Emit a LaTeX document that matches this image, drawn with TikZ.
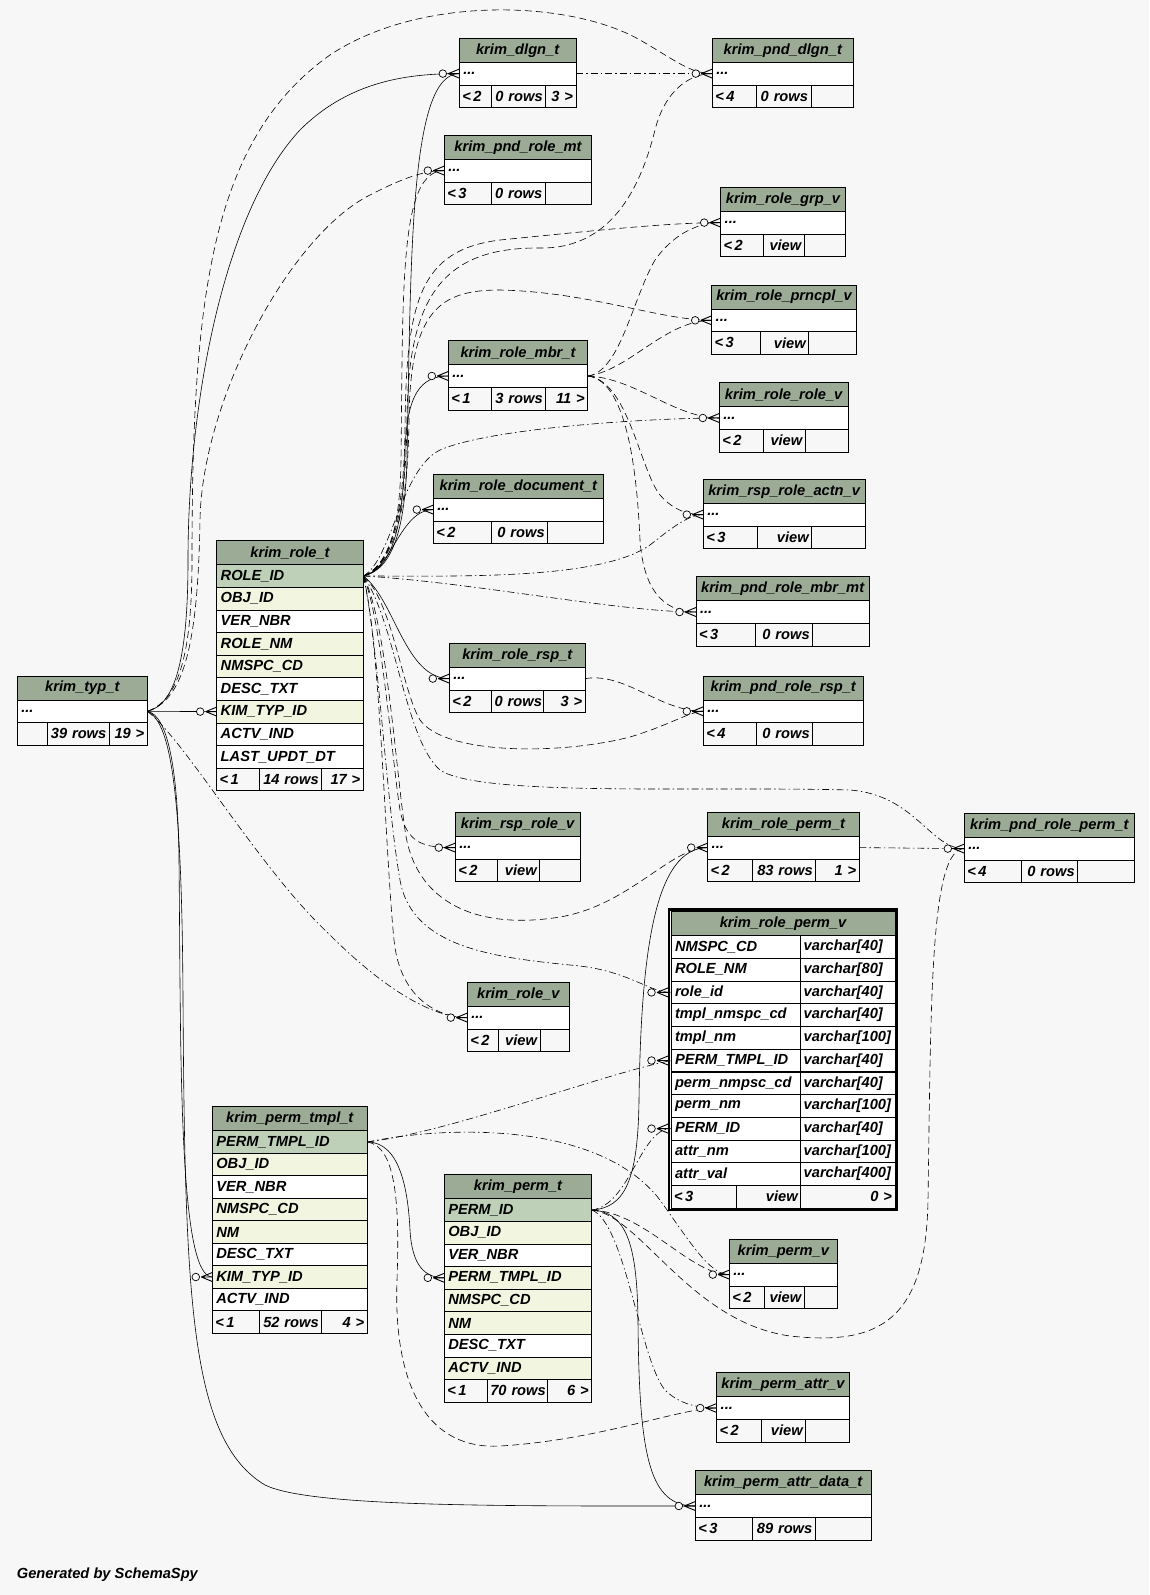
\documentclass[tikz,border=0pt]{standalone}
\usepackage{fontspec}
\setmainfont{Liberation Sans}
\usepackage{xcolor}
\usepackage{tikz}
\usetikzlibrary{positioning, fit}
\definecolor{hdrgreen}{RGB}{155,171,150}
\definecolor{pkgreen}{RGB}{190,209,184}
\definecolor{idxcream}{RGB}{242,246,224}
\definecolor{pagebg}{RGB}{247,247,247}
\pgfdeclarelayer{background}
\pgfsetlayers{background,main}
\newcommand{\tblfont}{\fontsize{14.67}{16}\selectfont\bfseries\itshape}
\newcommand{\tblfooter}[8]{%
  \pgfmathsetmacro{\fwa}{#3-6}\pgfmathsetmacro{\fwb}{#5-6}\pgfmathsetmacro{\fwc}{#7-6}%
  \node[tblfoot, align=left, text width=\fwa pt, anchor=north west] (#1-f1) at (#2.south west) {\mbox{#4}};
  \node[tblfoot, align=right, text width=\fwb pt, anchor=north west] (#1-f2) at (#1-f1.north east) {\mbox{#6}};
  \node[tblfoot, align=right, text width=\fwc pt, anchor=north west] (#1-f3) at (#1-f2.north east) {\mbox{#8}};
}
\newcommand{\smalltbl}[9]{%
  \pgfmathsetmacro{\rwid}{#3-8}\pgfmathsetmacro{\lastw}{#3-#5-#7}%
  \node[tblhead, minimum width=#3, anchor=north west] (#1) at (#2) {#4};
  \node[plainrow, text width=\rwid pt, anchor=north west] (#1-r) at (#1.south west) {...};
  \tblfooter{#1}{#1-r}{#5}{#6}{#7}{#8}{\lastw}{#9}%
}

\begin{document}
\begin{tikzpicture}[x=1pt, y=-1pt,
        tblhead/.style={draw, fill=hdrgreen, line width=0.8pt, outer sep=0pt, minimum height=24pt, inner xsep=2pt, inner ysep=1pt, font=\tblfont},
        plainrow/.style={draw, fill=white, line width=0.8pt, outer sep=0pt, minimum height=22.6pt, inner xsep=4pt, inner ysep=1pt, align=left, font=\tblfont},
        tblfoot/.style={plainrow, fill=pagebg, inner xsep=3pt},
        fkline/.style={line width=0.6pt},
        implied/.style={line width=0.6pt, dash pattern=on 7pt off 4pt},
        impliedalt/.style={line width=0.6pt, dash pattern=on 7pt off 3pt on 1.5pt off 3pt},
        credit/.style={inner sep=0pt, font=\tblfont},
        crowfoot/.pic={
            \draw[line width=0.9pt] (-11,0) -- (0,-4.5) (-11,0) -- (0,0) (-11,0) -- (0,4.5);
            \draw[line width=0.7pt, fill=pagebg] (-16.5,0) circle (3.8);
        }
    ]
    \useasboundingbox (0,0) rectangle (1149,1595);

    \smalltbl{dlgn}{459.3,38.3}{116.7}{krim\_dlgn\_t}{31.7}{<\,2}{54.7}{0 rows}{3 >}
    \smalltbl{pnddlgn}{712.3,38.3}{141}{krim\_pnd\_dlgn\_t}{43.7}{<\,4}{55}{0 rows}{}
    \smalltbl{pndrolemt}{444.3,135.3}{147.4}{krim\_pnd\_role\_mt}{47.4}{<\,3}{53.6}{0 rows}{}
    \smalltbl{rolegrpv}{720.7,187.3}{124.6}{krim\_role\_grp\_v}{42.6}{<\,2}{41}{view}{}
    \smalltbl{roleprncplv}{711.7,285}{144.6}{krim\_role\_prncpl\_v}{48.6}{<\,3}{48.4}{view}{}
    \smalltbl{rolembr}{448.3,340.7}{139.4}{krim\_role\_mbr\_t}{43.4}{<\,1}{54}{3 rows}{11 >}
    \smalltbl{rolerolev}{719.3,382.7}{128.7}{krim\_role\_role\_v}{44}{<\,2}{42}{view}{}
    \smalltbl{roledoc}{433.3,474.3}{170}{krim\_role\_document\_t}{58.4}{<\,2}{56}{0 rows}{}
    \smalltbl{rsproleactnv}{703.3,479.3}{161.7}{krim\_rsp\_role\_actn\_v}{54}{<\,3}{54.4}{view}{}
    \smalltbl{pndrolembrmt}{696,576.7}{173.3}{krim\_pnd\_role\_mbr\_mt}{59.7}{<\,3}{57}{0 rows}{}
    \smalltbl{rolersp}{449.3,643.3}{136}{krim\_role\_rsp\_t}{42.4}{<\,2}{51.6}{0 rows}{3 >}
    \smalltbl{pndrolersp}{703.3,676}{160}{krim\_pnd\_role\_rsp\_t}{53.4}{<\,4}{56}{0 rows}{}
    \smalltbl{rsprolev}{455.3,812.3}{124.7}{krim\_rsp\_role\_v}{42}{<\,2}{42.4}{view}{}
    \smalltbl{roleperm}{707.7,812.3}{151.6}{krim\_role\_perm\_t}{44.6}{<\,2}{63.4}{83 rows}{1 >}
    \smalltbl{pndroleperm}{964.3,813.3}{170}{krim\_pnd\_role\_perm\_t}{57.4}{<\,4}{56}{0 rows}{}
    \smalltbl{rolev}{467.3,982.3}{102}{krim\_role\_v}{31}{<\,2}{41.7}{view}{}
    \smalltbl{permv}{729.3,1239.3}{108}{krim\_perm\_v}{35.4}{<\,2}{39.6}{view}{}
    \smalltbl{permattrv}{716.7,1372.7}{132.6}{krim\_perm\_attr\_v}{45}{<\,2}{44}{view}{}
    \smalltbl{permattrdata}{695.3,1470.7}{175.7}{krim\_perm\_attr\_data\_t}{57.4}{<\,3}{62.6}{89 rows}{}
    \smalltbl{typ}{17.3,676}{130}{krim\_typ\_t}{30}{}{62}{39 rows}{19 >}

    % krim_role_t
    \node[tblhead, minimum width=146.6, anchor=north west] (role) at (216.7,540.7) {krim\_role\_t};
    \foreach \t/\c [count=\i] in {ROLE\_ID/pkgreen, OBJ\_ID/idxcream, VER\_NBR/white, ROLE\_NM/idxcream, NMSPC\_CD/idxcream, DESC\_TXT/white, KIM\_TYP\_ID/idxcream, ACTV\_IND/white, LAST\_UPDT\_DT/white}
        \node[plainrow, fill=\c, text width=138.6pt, anchor=north west] (role-\i) at (216.7,{564.7+(\i-1)*22.6}) {\t};
    \tblfooter{role}{role-9}{42.6}{<\,1}{62.4}{14 rows}{41.6}{17 >}

    % krim_perm_tmpl_t
    \node[tblhead, minimum width=155, anchor=north west] (permtmpl) at (212.3,1106.7) {krim\_perm\_tmpl\_t};
    \foreach \t/\c [count=\i] in {PERM\_TMPL\_ID/pkgreen, OBJ\_ID/idxcream, VER\_NBR/white, NMSPC\_CD/idxcream, NM/idxcream, DESC\_TXT/white, KIM\_TYP\_ID/idxcream, ACTV\_IND/white}
        \node[plainrow, fill=\c, text width=147pt, anchor=north west] (permtmpl-\i) at (212.3,{1130.7+(\i-1)*22.5}) {\t};
    \tblfooter{permtmpl}{permtmpl-8}{47}{<\,1}{62.4}{52 rows}{45.6}{4 >}

    % krim_perm_t
    \node[tblhead, minimum width=147.4, anchor=north west] (perm) at (444.3,1174.7) {krim\_perm\_t};
    \foreach \t/\c [count=\i] in {PERM\_ID/pkgreen, OBJ\_ID/idxcream, VER\_NBR/white, PERM\_TMPL\_ID/idxcream, NMSPC\_CD/idxcream, NM/idxcream, DESC\_TXT/white, ACTV\_IND/idxcream}
        \node[plainrow, fill=\c, text width=139.4pt, anchor=north west] (perm-\i) at (444.3,{1198.7+(\i-1)*22.6}) {\t};
    \tblfooter{perm}{perm-8}{43}{<\,1}{60.4}{70 rows}{44}{6 >}

    % krim_role_perm_v
    \node[tblhead, minimum width=224, anchor=north west] (rpv) at (671,911.7) {krim\_role\_perm\_v};
    \foreach \t/\v [count=\i] in {NMSPC\_CD/{varchar[40]}, ROLE\_NM/{varchar[80]}, role\_id/{varchar[40]}, tmpl\_nmspc\_cd/{varchar[40]}, tmpl\_nm/{varchar[100]}, PERM\_TMPL\_ID/{varchar[40]}, perm\_nmpsc\_cd/{varchar[40]}, perm\_nm/{varchar[100]}, PERM\_ID/{varchar[40]}, attr\_nm/{varchar[100]}, attr\_val/{varchar[400]}} {
        \node[plainrow, text width=121.7pt, anchor=north west] (rpv-\i) at (671,{935.7+(\i-1)*22.7}) {\t};
        \node[plainrow, inner xsep=3pt, text width=88.3pt, anchor=north west] (rpv-\i-t) at (rpv-\i.north east) {\v};
    }
    \tblfooter{rpv}{rpv-11}{65.7}{<\,3}{64}{view}{94.3}{0 >}
    \node[draw, line width=2.4pt, inner sep=2.2pt, fit=(rpv)(rpv-f3)] (rpv-frame) {};

    \node[credit, anchor=west] (credit) at (16.7,1575) {Generated by SchemaSpy};

    \begin{pgfonlayer}{background}
    \fill[pagebg] (0,0) rectangle (1149,1595);
    % krim_typ_t
    \draw[fkline] (typ-r.east) -- (role-7.west);
    \draw[fkline] (typ-r.east) .. controls (175,705) and (188,660) .. (188,560) .. controls (188,400) and (225,210) .. (300,130) .. controls (350,80) and (410,73.6) .. (dlgn-r.west);
    \draw[implied] (typ-r.east) .. controls (180,700) and (192,650) .. (192,560) .. controls (192,300) and (210,140) .. (330,55) .. controls (420,-5) and (570,0) .. (640,40) .. controls (675,60) and (690,73.6) .. (pnddlgn-r.west);
    \draw[implied] (typ-r.east) .. controls (185,700) and (198,640) .. (200,520) .. controls (202,400) and (290,235) .. (370,195) .. controls (405,177) and (425,170.6) .. (pndrolemt-r.west);
    \draw[fkline] (typ-r.east) .. controls (168,715) and (178,770) .. (179,860) .. controls (181,1050) and (178,1277) .. (permtmpl-7.west);
    \draw[fkline] (typ-r.east) .. controls (172,722) and (182,800) .. (183,1000) .. controls (185,1300) and (190,1440) .. (265,1485) .. controls (310,1507) and (500,1506) .. (permattrdata-r.west);
    \draw[impliedalt] (typ-r.east) .. controls (185,740) and (260,870) .. (330,935) .. controls (380,985) and (430,1017.6) .. (rolev-r.west);
    % krim_role_t
    \draw[fkline] (role-1.east) .. controls (392,570) and (405,530) .. (407,460) .. controls (411,250) and (410,73.6) .. (dlgn-r.west);
    \draw[implied] (role-1.east) .. controls (388,568) and (400,530) .. (401,460) .. controls (403,280) and (400,170.6) .. (pndrolemt-r.west);
    \draw[implied] (role-1.east) .. controls (392,565) and (404,510) .. (405,430) .. controls (406,300) and (420,250) .. (500,240) .. controls (600,230) and (670,222.6) .. (rolegrpv-r.west);
    \draw[implied] (role-1.east) .. controls (393,565) and (406,510) .. (407,420) .. controls (408,300) and (440,247) .. (540,248) .. controls (610,249) and (640,190) .. (655,130) .. controls (665,90) and (690,73.6) .. (pnddlgn-r.west);
    \draw[implied] (role-1.east) .. controls (394,565) and (408,510) .. (409,420) .. controls (410,310) and (440,290) .. (500,290) .. controls (590,292) and (660,320.3) .. (roleprncplv-r.west);
    \draw[fkline] (role-1.east) .. controls (395,568) and (403,520) .. (405,450) .. controls (407,395) and (420,376) .. (rolembr-r.west);
    \draw[impliedalt] (role-1.east) .. controls (392,560) and (400,470) .. (440,450) .. controls (490,428) and (650,418) .. (rolerolev-r.west);
    \draw[fkline] (role-1.east) .. controls (392,570) and (400,509.6) .. (roledoc-r.west);
    \draw[impliedalt] (role-1.east) .. controls (460,576) and (600,580) .. (650,545) .. controls (675,525) and (690,514.6) .. (rsproleactnv-r.west);
    \draw[impliedalt] (role-1.east) .. controls (470,582) and (620,612) .. (pndrolembrmt-r.west);
    \draw[fkline] (role-1.east) .. controls (395,600) and (405,678.6) .. (rolersp-r.west);
    \draw[implied] (role-1.east) .. controls (392,600) and (402,690) .. (420,720) .. controls (445,755) and (560,755) .. (630,737) .. controls (670,725) and (690,711.3) .. (pndrolersp-r.west);
    \draw[impliedalt] (role-1.east) .. controls (395,620) and (405,740) .. (440,770) .. controls (480,797) and (700,786) .. (850,790) .. controls (915,795) and (930,848.6) .. (pndroleperm-r.west);
    \draw[implied] (role-1.east) .. controls (382,620) and (392,760) .. (400,810) .. controls (407,845) and (425,847.6) .. (rsprolev-r.west);
    \draw[implied] (role-1.east) .. controls (386,620) and (395,760) .. (405,830) .. controls (415,905) and (480,930) .. (560,917) .. controls (630,905) and (670,847.6) .. (roleperm-r.west);
    \draw[impliedalt] (role-1.east) .. controls (378,640) and (386,800) .. (400,880) .. controls (412,950) and (500,958) .. (580,966) .. controls (630,972) and (650,992.5) .. (rpv-3.west);
    \draw[implied] (role-1.east) .. controls (380,640) and (385,850) .. (394,940) .. controls (400,1000) and (440,1017.6) .. (rolev-r.west);
    % krim_role_mbr_t
    \draw[implied] (rolembr-r.east) .. controls (620,372) and (632,300) .. (655,260) .. controls (675,232) and (700,222.6) .. (rolegrpv-r.west);
    \draw[implied] (rolembr-r.east) .. controls (630,370) and (665,320.3) .. (roleprncplv-r.west);
    \draw[implied] (rolembr-r.east) .. controls (635,378) and (675,418) .. (rolerolev-r.west);
    \draw[implied] (rolembr-r.east) .. controls (628,380) and (640,470) .. (660,495) .. controls (675,512) and (690,514.6) .. (rsproleactnv-r.west);
    \draw[implied] (rolembr-r.east) .. controls (622,380) and (636,450) .. (640,540) .. controls (644,598) and (670,612) .. (pndrolembrmt-r.west);
    % single hops
    \draw[impliedalt] (dlgn-r.east) -- (pnddlgn-r.west);
    \draw[implied] (rolersp-r.east) .. controls (625,672) and (660,711.3) .. (pndrolersp-r.west);
    \draw[impliedalt] (roleperm-r.east) -- (pndroleperm-r.west);
    % krim_perm_t
    \draw[fkline] (perm-1.east) .. controls (625,1208) and (638,1180) .. (639,1100) .. controls (641,950) and (655,847.6) .. (roleperm-r.west);
    \draw[fkline] (perm-1.east) .. controls (625,1212) and (637,1240) .. (638,1320) .. controls (639,1460) and (650,1506) .. (permattrdata-r.west);
    \draw[implied] (perm-1.east) .. controls (645,1212) and (690,1274.6) .. (permv-r.west);
    \draw[implied] (perm-1.east) .. controls (640,1215) and (690,1322) .. (790,1336) .. controls (880,1346) and (926,1320) .. (928,1200) .. controls (931,1000) and (930,848.6) .. (pndroleperm-r.west);
    \draw[impliedalt] (perm-1.east) .. controls (625,1222) and (640,1360) .. (665,1390) .. controls (680,1405) and (700,1408) .. (permattrv-r.west);
    \draw[impliedalt] (perm-1.east) .. controls (630,1205) and (640,1128.7) .. (rpv-9.west);
    % krim_perm_tmpl_t
    \draw[fkline] (permtmpl-1.east) .. controls (400,1142) and (408,1190) .. (410,1230) .. controls (412,1266) and (425,1277.8) .. (perm-4.west);
    \draw[impliedalt] (permtmpl-1.east) .. controls (450,1132) and (600,1075) .. (rpv-6.west);
    \draw[impliedalt] (permtmpl-1.east) .. controls (450,1125) and (600,1122) .. (660,1200) .. controls (692,1245) and (710,1274.6) .. (permv-r.west);
    \draw[implied] (permtmpl-1.east) .. controls (395,1146) and (400,1200) .. (397,1280) .. controls (393,1390) and (430,1450) .. (500,1446) .. controls (600,1440) and (680,1408) .. (permattrv-r.west);
    \end{pgfonlayer}

    \foreach \n in {dlgn-r, pnddlgn-r, pndrolemt-r, rolegrpv-r, roleprncplv-r, rolembr-r, rolerolev-r, roledoc-r, rsproleactnv-r, pndrolembrmt-r, rolersp-r, pndrolersp-r, rsprolev-r, roleperm-r, pndroleperm-r, rolev-r, permv-r, permattrv-r, permattrdata-r, role-7, permtmpl-7, perm-4}
        \pic at (\n.west) {crowfoot};
    \foreach \n in {rpv-3, rpv-6, rpv-9}
        \pic at ([xshift=-3pt]\n.west) {crowfoot};
\end{tikzpicture}
\end{document}
